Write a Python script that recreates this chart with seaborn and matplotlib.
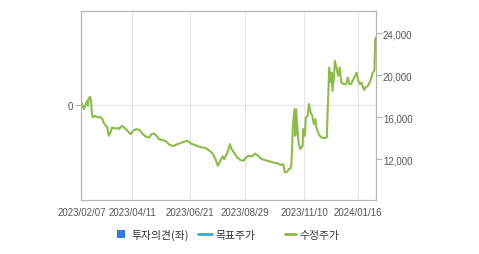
import matplotlib
matplotlib.use("Agg")
import matplotlib.pyplot as plt
import matplotlib.dates as mdates
from matplotlib.patches import Rectangle
from matplotlib.lines import Line2D
import seaborn as sns
import pandas as pd

sns.set_style("white")
plt.rcParams["font.family"] = ["Liberation Sans", "Noto Sans CJK KR", "DejaVu Sans"]

# ---- data ----
dates = [
    "2023-02-07", "2023-02-10", "2023-02-12", "2023-02-14", "2023-02-15", "2023-02-16",
    "2023-02-18", "2023-02-19", "2023-02-20", "2023-02-21", "2023-02-24", "2023-02-27",
    "2023-03-02", "2023-03-05", "2023-03-07", "2023-03-11", "2023-03-13", "2023-03-15",
    "2023-03-17", "2023-03-20", "2023-03-25", "2023-03-26", "2023-03-29", "2023-04-01",
    "2023-04-05", "2023-04-09", "2023-04-12", "2023-04-16", "2023-04-20", "2023-04-24",
    "2023-04-28", "2023-05-02", "2023-05-05", "2023-05-08", "2023-05-11", "2023-05-14",
    "2023-05-19", "2023-05-23", "2023-05-27", "2023-06-01", "2023-06-06", "2023-06-10",
    "2023-06-14", "2023-06-18", "2023-06-21", "2023-06-24", "2023-06-28", "2023-07-02",
    "2023-07-06", "2023-07-10", "2023-07-14", "2023-07-17", "2023-07-20", "2023-07-23",
    "2023-07-26", "2023-07-29", "2023-08-01", "2023-08-03", "2023-08-05", "2023-08-07",
    "2023-08-10", "2023-08-12", "2023-08-15", "2023-08-19", "2023-08-23", "2023-08-27",
    "2023-08-29", "2023-09-02", "2023-09-06", "2023-09-10", "2023-09-14", "2023-09-17",
    "2023-09-21", "2023-09-28", "2023-10-02", "2023-10-08", "2023-10-12", "2023-10-15",
    "2023-10-17", "2023-10-20", "2023-10-22", "2023-10-24", "2023-10-25", "2023-10-26",
    "2023-10-27", "2023-10-29", "2023-10-30", "2023-10-31", "2023-11-01", "2023-11-03",
    "2023-11-05", "2023-11-08", "2023-11-09", "2023-11-11", "2023-11-12", "2023-11-14",
    "2023-11-16", "2023-11-18", "2023-11-20", "2023-11-22", "2023-11-24", "2023-11-25",
    "2023-11-28", "2023-12-01", "2023-12-05", "2023-12-08", "2023-12-09", "2023-12-10",
    "2023-12-11", "2023-12-13", "2023-12-14", "2023-12-15", "2023-12-17", "2023-12-18",
    "2023-12-20", "2023-12-22", "2023-12-24", "2023-12-26", "2023-12-29", "2024-01-01",
    "2024-01-03", "2024-01-05", "2024-01-07", "2024-01-10", "2024-01-14", "2024-01-16",
    "2024-01-18", "2024-01-20", "2024-01-23", "2024-01-25", "2024-01-28", "2024-01-31",
    "2024-02-03", "2024-02-05", "2024-02-06", "2024-02-07",
]
adj_price = [
    17400, 16760, 17170, 17550, 17080, 17800,
    17930, 17500, 16350, 15970, 16120, 15970,
    16030, 15810, 15400, 15020, 14220, 14540,
    15020, 14920, 14950, 14860, 15170, 15020,
    14700, 14380, 14700, 14860, 14760, 14380,
    14130, 14060, 14380, 14440, 14220, 13900,
    13810, 13690, 13360, 13240, 13430, 13520,
    13650, 13740, 13590, 13430, 13330, 13200,
    13110, 13080, 12890, 12700, 12480, 12000,
    11360, 11840, 12250, 12000, 12320, 12630,
    13430, 12950, 12630, 12160, 11900, 11840,
    12060, 12320, 12250, 12510, 12320, 12060,
    11930, 11780, 11680, 11590, 11430, 11520,
    10730, 10790, 11050, 11110, 11360, 12950,
    15170, 16760, 14220, 16760, 15490, 13590,
    12950, 13270, 14860, 14220, 15970, 16060,
    17240, 16440, 16120, 15330, 15810, 15020,
    14380, 14060, 14000, 14060, 16440, 18350,
    20730, 19300, 20250, 18500, 19930, 21360,
    20730, 19930, 20730, 19300, 19140, 19140,
    19780, 19140, 19140, 19620, 20250, 19460,
    19140, 19300, 18600, 18830, 18980, 19460,
    20250, 20410, 23430, 23600,
]
tick_dates = ["2023-02-07", "2023-04-11", "2023-06-21", "2023-08-29", "2023-11-10", "2024-01-16"]
tick_labels = ["2023/02/07", "2023/04/11", "2023/06/21", "2023/08/29", "2023/11/10", "2024/01/16"]
price_ticks = [12000, 16000, 20000, 24000]
price_tick_labels = ["12,000", "16,000", "20,000", "24,000"]
legend_labels = ["투자의견(좌)", "목표주가", "수정주가"]

df = pd.DataFrame({"date": pd.to_datetime(dates), "price": adj_price})

GREEN = "#8cbc48"
GRID = "#e6e6e6"
SPINE = "#b4b4b4"
TXT = "#555555"

fig = plt.figure(figsize=(4.79, 2.55), dpi=100)
ax = fig.add_axes([0.170, 0.213, 0.615, 0.739])
ax2 = ax.twinx()

sns.lineplot(data=df, x="date", y="price", ax=ax2, color=GREEN, linewidth=1.5)

ax.set_xlim(pd.Timestamp("2023-02-07"), pd.Timestamp("2024-02-07"))
ax2.set_xlim(pd.Timestamp("2023-02-07"), pd.Timestamp("2024-02-07"))
ax.set_ylim(-1, 1)
ax.set_yticks([0])
ax.set_yticklabels(["0"])
ax2.set_ylim(8124, 26100)
ax2.set_yticks(price_ticks)
ax2.set_yticklabels(price_tick_labels)

ax.set_xticks(pd.to_datetime(tick_dates))
ax.set_xticklabels(tick_labels)
ax.grid(True, color=GRID, linewidth=0.8)
ax2.grid(False)
ax.set_axisbelow(True)

ax.set_xlabel("")
ax.set_ylabel("")
ax2.set_xlabel("")
ax2.set_ylabel("")

for a in (ax, ax2):
    for s in a.spines.values():
        s.set_color(SPINE)
        s.set_linewidth(0.8)

ax.tick_params(axis="x", length=0, pad=5, labelsize=7, labelcolor=TXT)
ax.tick_params(axis="y", length=4, width=0.8, color=SPINE, pad=2, labelsize=7, labelcolor=TXT)
ax2.tick_params(axis="y", length=4, width=0.8, color=SPINE, pad=1, labelsize=7, labelcolor=TXT)

# legend
W, H = 479.0, 255.0
def fx(px):
    return px / W
def fy(py):
    return 1 - py / H

fig.add_artist(Rectangle((fx(117), fy(239)), 8 / W, 8 / H, transform=fig.transFigure,
                         facecolor="#2b7fdf", edgecolor="none"))
fig.text(fx(131), fy(235.5), legend_labels[0], fontsize=7.8, color="#333333",
         va="center", ha="left", family=["Noto Sans CJK KR", "DejaVu Sans"])
fig.add_artist(Line2D([fx(198), fx(212)], [fy(234.5), fy(234.5)], transform=fig.transFigure,
                      color="#30b0c8", linewidth=2))
fig.text(fx(215), fy(235.5), legend_labels[1], fontsize=7.8, color="#333333",
         va="center", ha="left", family=["Noto Sans CJK KR", "DejaVu Sans"])
fig.add_artist(Line2D([fx(285), fx(296)], [fy(234.5), fy(234.5)], transform=fig.transFigure,
                      color=GREEN, linewidth=2))
fig.text(fx(299), fy(235.5), legend_labels[2], fontsize=7.8, color="#333333",
         va="center", ha="left", family=["Noto Sans CJK KR", "DejaVu Sans"])

fig.savefig("out.png", dpi=100)
